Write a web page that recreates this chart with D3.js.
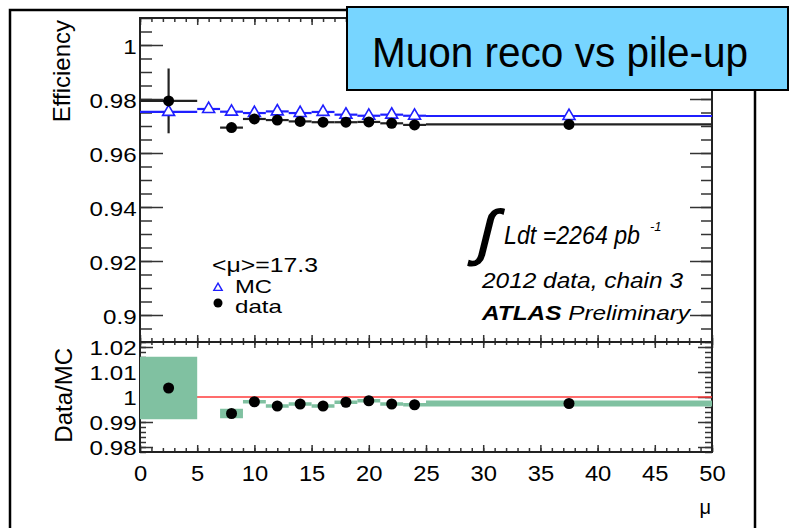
<!DOCTYPE html>
<html lang="en">
<head>
<meta charset="UTF-8">
<title>Muon reco vs pile-up</title>
<script src="https://d3js.org/d3.v7.min.js"></script>
<style>
  body { margin: 0; background: #fff; }
  svg text { font-family: "Liberation Sans", Arial, Helvetica, sans-serif; fill: #000; }
</style>
</head>
<body>
<div id="chart"></div>
<script>
  // mu bins (lower / upper edge)
  var binLow  = [0, 5, 7, 9, 11, 13, 15, 17, 19, 21, 23, 25];
  var binHigh = [5, 7, 9, 11, 13, 15, 17, 19, 21, 23, 25, 50];
  // efficiencies
  var mcEff   = [0.9752, 0.9763, 0.9753, 0.9748, 0.9754, 0.9748, 0.9752, 0.9742, 0.9738, 0.9742, 0.9738, 0.9737];
  var dataEff = [0.9793, null, 0.9694, 0.9726, 0.9722, 0.9717, 0.9714, 0.9714, 0.9715, 0.9710, 0.9704, 0.9706];
  var dataErr = [0.0120, null, 0.0008, 0.0005, 0.0005, 0.0005, 0.0005, 0.0005, 0.0005, 0.0005, 0.0005, 0.0004];
  // data / MC
  var ratio    = [1.0036, null, 0.9934, 0.9981, 0.9964, 0.9972, 0.9964, 0.9979, 0.9985, 0.9972, 0.9969, 0.9974];
  var ratioErr = [0.0125, null, 0.0019, 0.0007, 0.0007, 0.0007, 0.0007, 0.0007, 0.0007, 0.0007, 0.0007, 0.0012];

  var effTicks   = [0.9, 0.92, 0.94, 0.96, 0.98, 1];
  var ratioTicks = [0.98, 0.99, 1, 1.01, 1.02];
  var muTicks    = [0, 5, 10, 15, 20, 25, 30, 35, 40, 45, 50];

  var rows = binLow.map(function(lo, i) {
    return { lo: lo, hi: binHigh[i], mid: (lo + binHigh[i]) / 2,
             mc: mcEff[i], eff: dataEff[i], err: dataErr[i],
             r: ratio[i], rErr: ratioErr[i] };
  });
  var withData = rows.filter(function(d) { return d.eff !== null; });

  var svg = d3.select('#chart').append('svg')
    .attr('width', 790)
    .attr('height', 528);

  var x = d3.scaleLinear().domain([0, 50]).range([140, 712]);
  var yEff = d3.scaleLinear().domain([0.89, 1.01]).range([342, 18]);
  var yRat = d3.scaleLinear().domain([0.978, 1.022]).range([452, 342]);

  var xMinor = d3.range(0, 51);
  var effMinor = d3.range(178, 203).map(function(i) { return i * 0.005; });
  var ratMinor = d3.range(489, 512).map(function(i) { return i * 0.002; });

  // outer frame of the slide picture
  svg.append('rect')
    .attr('x', 10).attr('y', 10).attr('width', 745).attr('height', 540)
    .attr('fill', 'none').attr('stroke', '#000').attr('stroke-width', 2.5);

  // tick helper: ticks only, no labels
  function tickSet(axisFn, scale, values, size, transform) {
    svg.append('g')
      .attr('transform', transform)
      .call(axisFn(scale).tickValues(values).tickSize(size).tickFormat(''))
      .call(function(g) { g.select('.domain').remove(); })
      .selectAll('line')
      .attr('stroke', '#333')
      .attr('stroke-width', 1.5);
  }

  // ---- upper panel ticks
  tickSet(d3.axisLeft, yEff, effMinor, -12, 'translate(140,0)');
  tickSet(d3.axisLeft, yEff, effTicks, -23, 'translate(140,0)');
  tickSet(d3.axisRight, yEff, effMinor, -11, 'translate(712,0)');
  tickSet(d3.axisRight, yEff, effTicks, -22, 'translate(712,0)');
  tickSet(d3.axisTop, x, xMinor, -4, 'translate(0,18)');
  tickSet(d3.axisTop, x, muTicks, -7, 'translate(0,18)');
  tickSet(d3.axisBottom, x, xMinor, -4, 'translate(0,342)');
  tickSet(d3.axisBottom, x, muTicks, -7, 'translate(0,342)');

  // ---- lower panel ticks
  tickSet(d3.axisLeft, yRat, ratMinor, -6, 'translate(140,0)');
  tickSet(d3.axisLeft, yRat, ratioTicks, -13, 'translate(140,0)');
  tickSet(d3.axisRight, yRat, ratMinor, -7, 'translate(712,0)');
  tickSet(d3.axisRight, yRat, ratioTicks, -14, 'translate(712,0)');
  tickSet(d3.axisTop, x, xMinor, -3, 'translate(0,342)');
  tickSet(d3.axisTop, x, muTicks, -6, 'translate(0,342)');
  tickSet(d3.axisBottom, x, xMinor, -4, 'translate(0,452)');
  tickSet(d3.axisBottom, x, muTicks, -7, 'translate(0,452)');

  // panel frames
  svg.append('rect')
    .attr('x', 140).attr('y', 18).attr('width', 572).attr('height', 324)
    .attr('fill', 'none').attr('stroke', '#222').attr('stroke-width', 2);
  svg.append('rect')
    .attr('x', 140).attr('y', 342).attr('width', 572).attr('height', 110)
    .attr('fill', 'none').attr('stroke', '#222').attr('stroke-width', 2);

  // tick labels (picture is a bit stretched sideways)
  function labels(axis, transform, size, stretch) {
    var g = svg.append('g')
      .attr('transform', transform)
      .call(axis)
      .attr('font-size', size)
      .attr('font-family', '"Liberation Sans", Arial, sans-serif');
    g.select('.domain').remove();
    g.selectAll('text').attr('transform', 'scale(' + stretch + ',1)');
    return g;
  }

  labels(d3.axisLeft(yEff).tickValues(effTicks).tickSize(0).tickPadding(3)
           .tickFormat(function(d) { return d3.format('')(+d.toFixed(2)); }),
         'translate(140,0)', 21, 1.15)
    .selectAll('text').attr('dy', '0.4em');

  labels(d3.axisLeft(yRat).tickValues(ratioTicks).tickSize(0).tickPadding(3)
           .tickFormat(function(d) { return d3.format('')(+d.toFixed(2)); }),
         'translate(140,0)', 21, 1.15)
    .selectAll('text').attr('dy', '0.38em');

  labels(d3.axisBottom(x).tickValues(muTicks).tickSize(0).tickPadding(13),
         'translate(0,452)', 22, 1.08);

  // axis titles
  svg.append('text')
    .attr('transform', 'translate(70,20) rotate(-90)')
    .attr('text-anchor', 'end')
    .attr('font-size', 24)
    .text('Efficiency');
  svg.append('text')
    .attr('transform', 'translate(72,348) rotate(-90)')
    .attr('text-anchor', 'end')
    .attr('font-size', 24)
    .text('Data/MC');
  svg.append('text')
    .attr('x', 711).attr('y', 514)
    .attr('text-anchor', 'end')
    .attr('font-size', 20)
    .text('\u03bc');

  // ---- upper panel: MC (blue steps + open triangles)
  svg.append('g').selectAll('line')
    .data(rows)
    .enter().append('line')
    .attr('x1', function(d) { return x(d.lo); })
    .attr('x2', function(d) { return x(d.hi); })
    .attr('y1', function(d) { return yEff(d.mc); })
    .attr('y2', function(d) { return yEff(d.mc); })
    .attr('stroke', '#1f1fff')
    .attr('stroke-width', 2.2);

  // data horizontal + vertical bars
  var dataBars = svg.append('g').attr('stroke', '#222').attr('stroke-width', 2.2);
  dataBars.selectAll('.hbar')
    .data(withData)
    .enter().append('line')
    .attr('class', 'hbar')
    .attr('x1', function(d) { return x(d.lo); })
    .attr('x2', function(d) { return x(d.hi); })
    .attr('y1', function(d) { return yEff(d.eff); })
    .attr('y2', function(d) { return yEff(d.eff); });
  dataBars.selectAll('.vbar')
    .data(withData)
    .enter().append('line')
    .attr('class', 'vbar')
    .attr('x1', function(d) { return x(d.mid); })
    .attr('x2', function(d) { return x(d.mid); })
    .attr('y1', function(d) { return yEff(d.eff + d.err); })
    .attr('y2', function(d) { return yEff(d.eff - d.err); });

  var tri = d3.symbol().type(d3.symbolTriangle).size(62);
  svg.append('g').selectAll('path')
    .data(rows)
    .enter().append('path')
    .attr('d', tri)
    .attr('transform', function(d) { return 'translate(' + x(d.mid) + ',' + yEff(d.mc) + ')'; })
    .attr('fill', '#fff')
    .attr('stroke', '#1f1fff')
    .attr('stroke-width', 1.6);

  svg.append('g').selectAll('circle')
    .data(withData)
    .enter().append('circle')
    .attr('cx', function(d) { return x(d.mid); })
    .attr('cy', function(d) { return yEff(d.eff); })
    .attr('r', 5.5)
    .attr('fill', '#000');

  // ---- lower panel: red unity line, green bands, ratio points
  svg.append('line')
    .attr('x1', x(0)).attr('x2', x(50))
    .attr('y1', yRat(1)).attr('y2', yRat(1))
    .attr('stroke', '#ff3b3b')
    .attr('stroke-width', 1.3);

  svg.append('g').selectAll('rect')
    .data(withData)
    .enter().append('rect')
    .attr('x', function(d) { return x(d.lo); })
    .attr('width', function(d) { return x(d.hi) - x(d.lo); })
    .attr('y', function(d) { return yRat(d.r + d.rErr); })
    .attr('height', function(d) { return yRat(d.r - d.rErr) - yRat(d.r + d.rErr); })
    .attr('fill', '#80c1a1');

  svg.append('g').selectAll('circle')
    .data(withData)
    .enter().append('circle')
    .attr('cx', function(d) { return x(d.mid); })
    .attr('cy', function(d) { return yRat(d.r); })
    .attr('r', 5.5)
    .attr('fill', '#000');

  // ---- legend
  svg.append('text').attr('x', 212).attr('y', 272).attr('font-size', 21)
    .attr('textLength', 106).attr('lengthAdjust', 'spacingAndGlyphs')
    .text('<\u03bc>=17.3');
  svg.append('path')
    .attr('d', d3.symbol().type(d3.symbolTriangle).size(30))
    .attr('transform', 'translate(218,288)')
    .attr('fill', '#fff').attr('stroke', '#1f1fff').attr('stroke-width', 1.4);
  svg.append('text').attr('x', 235).attr('y', 293).attr('font-size', 19)
    .attr('textLength', 37).attr('lengthAdjust', 'spacingAndGlyphs')
    .text('MC');
  svg.append('circle').attr('cx', 218).attr('cy', 303).attr('r', 4.5).attr('fill', '#000');
  svg.append('text').attr('x', 235).attr('y', 313).attr('font-size', 19)
    .attr('textLength', 47).attr('lengthAdjust', 'spacingAndGlyphs')
    .text('data');

  // ---- luminosity / ATLAS label
  svg.append('text')
    .attr('transform', 'translate(474,253) skewX(-14)')
    .attr('font-size', 60).attr('font-family', '"DejaVu Sans", sans-serif')
    .attr('stroke', '#000').attr('stroke-width', 1.6)
    .text('\u222b');
  svg.append('text').attr('x', 504).attr('y', 244)
    .attr('font-size', 25).attr('font-style', 'italic')
    .attr('textLength', 136).attr('lengthAdjust', 'spacingAndGlyphs')
    .text('Ldt =2264 pb');
  svg.append('text').attr('x', 650).attr('y', 231)
    .attr('font-size', 13).attr('font-style', 'italic')
    .text('-1');
  svg.append('text').attr('x', 482).attr('y', 288)
    .attr('font-size', 22).attr('font-style', 'italic')
    .attr('textLength', 201).attr('lengthAdjust', 'spacingAndGlyphs')
    .text('2012 data, chain 3');
  var atlas = svg.append('text').attr('x', 482).attr('y', 320)
    .attr('font-size', 21).attr('font-style', 'italic')
    .attr('textLength', 208).attr('lengthAdjust', 'spacingAndGlyphs');
  atlas.append('tspan').attr('font-weight', 'bold').text('ATLAS');
  atlas.append('tspan').text(' Preliminary');

  // ---- slide title box
  svg.append('rect')
    .attr('x', 347).attr('y', 7).attr('width', 441).attr('height', 83)
    .attr('fill', '#77d5ff').attr('stroke', '#000').attr('stroke-width', 2);
  svg.append('text')
    .attr('x', 372).attr('y', 67)
    .attr('font-size', 42)
    .attr('font-family', '"Comic Sans MS", "Comic Neue", "Open Sans", sans-serif')
    .attr('textLength', 376).attr('lengthAdjust', 'spacingAndGlyphs')
    .text('Muon reco vs pile-up');
</script>
</body>
</html>
